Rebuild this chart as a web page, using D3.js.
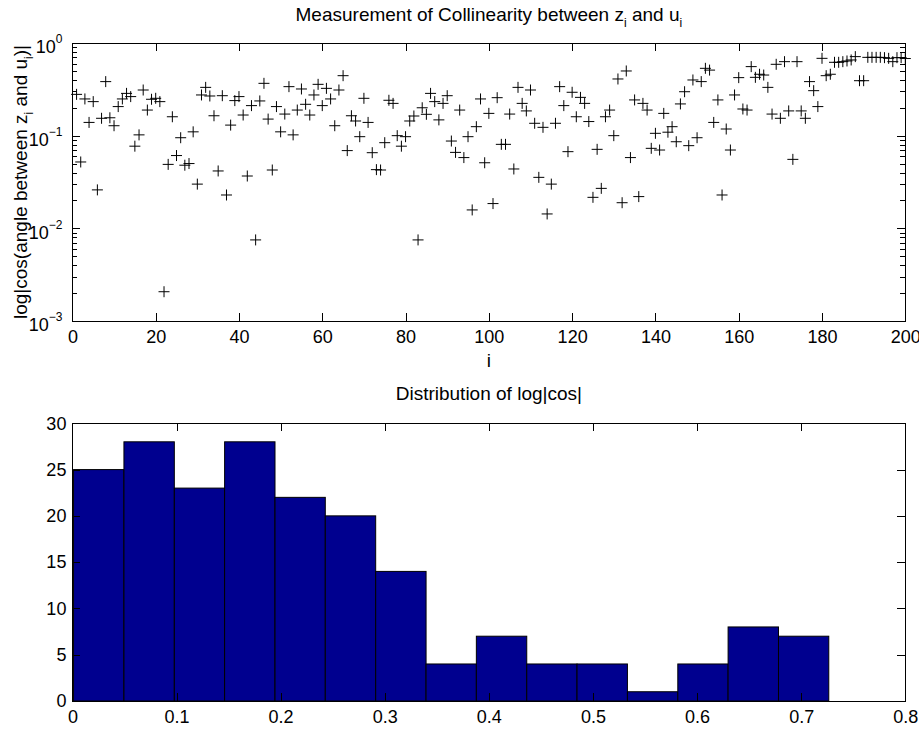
<!DOCTYPE html>
<html><head><meta charset="utf-8">
<script src="https://cdn.jsdelivr.net/npm/d3@7"></script>
<style>
body{margin:0;background:#fff}
svg{font-family:"Liberation Sans",Arial,Helvetica,sans-serif}
.axis path,.axis line{stroke:#000;stroke-width:1;shape-rendering:crispEdges}
.axis text{font-size:18px;fill:#000}
</style></head><body>
<svg id="c" width="919" height="729"></svg>
<script>
// ---------- data ----------
const cosValues = [
0.279,0.052,0.249,0.139,0.233,0.026,0.154,0.383,0.156,0.128,
0.206,0.249,0.286,0.264,0.077,0.102,0.311,0.189,0.247,0.253,
0.233,0.00207,0.049,0.160,0.061,0.095,0.048,0.050,0.110,0.030,
0.275,0.332,0.268,0.164,0.0416,0.270,0.0229,0.130,0.239,0.264,
0.167,0.0367,0.211,0.0075,0.237,0.367,0.151,0.0426,0.206,0.110,
0.171,0.338,0.102,0.189,0.319,0.218,0.167,0.275,0.358,0.211,
0.324,0.249,0.128,0.311,0.444,0.069,0.164,0.144,0.0975,0.253,
0.139,0.0655,0.043,0.0426,0.084,0.241,0.223,0.100,0.077,0.0975,
0.144,0.163,0.0075,0.200,0.170,0.286,0.233,0.148,0.223,0.270,
0.0875,0.066,0.189,0.058,0.0975,0.0158,0.125,0.249,0.051,0.174,
0.0185,0.257,0.0806,0.0806,0.171,0.0437,0.332,0.223,0.185,0.311,
0.136,0.0355,0.123,0.0143,0.030,0.136,0.338,0.211,0.0672,0.294,
0.160,0.259,0.223,0.142,0.0216,0.0712,0.027,0.160,0.189,0.100,
0.409,0.0189,0.499,0.058,0.243,0.022,0.223,0.189,0.073,0.106,
0.070,0.174,0.109,0.125,0.086,0.220,0.298,0.078,0.399,0.095,
0.383,0.533,0.51,0.139,0.243,0.0229,0.118,0.070,0.275,0.423,
0.194,0.189,0.556,0.426,0.460,0.451,0.332,0.171,0.589,0.154,
0.629,0.185,0.0555,0.629,0.185,0.154,0.383,0.306,0.206,0.683,
0.444,0.460,0.619,0.619,0.629,0.640,0.656,0.713,0.392,0.392,
0.700,0.700,0.700,0.700,0.695,0.683,0.629,0.695,0.695,0.680];
const indexValues = d3.range(1, cosValues.length + 1);
const xTicksTop = [0,20,40,60,80,100,120,140,160,180,200];
const yTicksTop = [1e-3,1e-2,1e-1,1];

const histEdges = [0.0011,0.0495,0.0979,0.1462,0.1946,0.2429,0.2913,0.3397,0.3880,0.4364,0.4847,0.5331,0.5815,0.6298,0.6782,0.7265];
const histCounts = [25,28,23,28,22,20,14,4,7,4,4,1,4,8,7];
const xTicksBot = [0,0.1,0.2,0.3,0.4,0.5,0.6,0.7,0.8];
const yTicksBot = [0,5,10,15,20,25,30];

// ---------- layout ----------
const svg = d3.select("#c");
const L = 72.4, R = 905.3;
const T1 = 43, B1 = 321;
const T2 = 423.3, B2 = 701;
const TK = 8, TKm = 5;
const FS = 19, FSsub = 12;

// ---------- top chart ----------
const x1 = d3.scaleLinear().domain([0,200]).range([L,R]);
const y1 = d3.scaleLog().domain([1e-3,1]).range([B1,T1]);
const minors = [];
yTicksTop.slice(0,3).forEach(d => { for (let k=2;k<=9;k++) minors.push(d*k); });

const g1 = svg.append("g");
g1.append("rect").attr("x",L).attr("y",T1).attr("width",R-L).attr("height",B1-T1)
  .attr("fill","#fff").attr("stroke","#000").attr("shape-rendering","crispEdges");

g1.append("g").attr("class","axis").attr("transform",`translate(0,${B1})`)
  .call(d3.axisBottom(x1).tickValues(xTicksTop).tickSize(-TK).tickSizeOuter(0).tickPadding(9).tickFormat(d3.format("d")))
  .call(g=>g.select(".domain").remove());
g1.append("g").attr("class","axis").attr("transform",`translate(0,${T1})`)
  .call(d3.axisTop(x1).tickValues(xTicksTop).tickSize(-TK).tickSizeOuter(0).tickFormat(""))
  .call(g=>g.select(".domain").remove());

const yl = g1.append("g").attr("class","axis").attr("transform",`translate(${L},0)`)
  .call(d3.axisLeft(y1).tickValues(yTicksTop).tickSize(-TK).tickSizeOuter(0).tickPadding(10).tickFormat(""))
  .call(g=>g.select(".domain").remove());
yl.selectAll(".tick text").each(function(d){
  const t = d3.select(this);
  t.text("10").attr("dy","0.55em");
  t.append("tspan").attr("dy",-10).attr("font-size",FSsub).text(String(Math.round(Math.log10(d))).replace("-","\u2212"));
});
g1.append("g").attr("class","axis").attr("transform",`translate(${L},0)`)
  .call(d3.axisLeft(y1).tickValues(minors).tickSize(-TKm).tickSizeOuter(0).tickFormat(""))
  .call(g=>g.select(".domain").remove());
g1.append("g").attr("class","axis").attr("transform",`translate(${R},0)`)
  .call(d3.axisRight(y1).tickValues(yTicksTop).tickSize(-TK).tickSizeOuter(0).tickFormat(""))
  .call(g=>g.select(".domain").remove());
g1.append("g").attr("class","axis").attr("transform",`translate(${R},0)`)
  .call(d3.axisRight(y1).tickValues(minors).tickSize(-TKm).tickSizeOuter(0).tickFormat(""))
  .call(g=>g.select(".domain").remove());

// markers
g1.append("g").selectAll("path.pt").data(indexValues).join("path")
  .attr("transform", i => `translate(${x1(i)},${y1(cosValues[i-1])})`)
  .attr("d", "M-5.5,0H5.5M0,-5.5V5.5")
  .attr("stroke","#000").attr("stroke-width",1).attr("fill","none");

// title
const t1 = svg.append("text").attr("x",(L+R)/2).attr("y",21).attr("text-anchor","middle")
  .attr("font-size",FS);
t1.append("tspan").text("Measurement of Collinearity between z");
t1.append("tspan").attr("dy",6).attr("font-size",FSsub).text("i");
t1.append("tspan").attr("dy",-6).text(" and u");
t1.append("tspan").attr("dy",6).attr("font-size",FSsub).text("i");

svg.append("text").attr("x",(L+R)/2).attr("y",367).attr("text-anchor","middle").attr("font-size",FS).text("i");

const yt = svg.append("text").attr("transform",`translate(27,${(T1+B1)/2}) rotate(-90)`)
  .attr("text-anchor","middle").attr("font-size",FS);
yt.append("tspan").text("log|cos(angle between z");
yt.append("tspan").attr("dy",6).attr("font-size",FSsub).text("i");
yt.append("tspan").attr("dy",-6).text(" and u");
yt.append("tspan").attr("dy",6).attr("font-size",FSsub).text("i");
yt.append("tspan").attr("dy",-6).text(")|");

// ---------- bottom chart ----------
const x2 = d3.scaleLinear().domain([0,0.8]).range([L,R]);
const y2 = d3.scaleLinear().domain([0,30]).range([B2,T2]);
const g2 = svg.append("g");
g2.append("rect").attr("x",L).attr("y",T2).attr("width",R-L).attr("height",B2-T2)
  .attr("fill","#fff").attr("stroke","none");

g2.append("g").selectAll("rect.bar").data(histCounts).join("rect")
  .attr("x",(d,k)=>x2(histEdges[k]))
  .attr("width",(d,k)=>x2(histEdges[k+1])-x2(histEdges[k]))
  .attr("y",d=>y2(d)).attr("height",d=>y2(0)-y2(d))
  .attr("fill","#00008f").attr("stroke","#000").attr("stroke-width",1);

g2.append("rect").attr("x",L).attr("y",T2).attr("width",R-L).attr("height",B2-T2)
  .attr("fill","none").attr("stroke","#000").attr("shape-rendering","crispEdges");

g2.append("g").attr("class","axis").attr("transform",`translate(0,${B2})`)
  .call(d3.axisBottom(x2).tickValues(xTicksBot).tickSize(-TK).tickSizeOuter(0).tickPadding(9).tickFormat(d=>d===0?"0":d3.format(".1f")(d)))
  .call(g=>g.select(".domain").remove());
g2.append("g").attr("class","axis").attr("transform",`translate(0,${T2})`)
  .call(d3.axisTop(x2).tickValues(xTicksBot).tickSize(-TK).tickSizeOuter(0).tickFormat(""))
  .call(g=>g.select(".domain").remove());
g2.append("g").attr("class","axis").attr("transform",`translate(${L},0)`)
  .call(d3.axisLeft(y2).tickValues(yTicksBot).tickSize(-TK).tickSizeOuter(0).tickPadding(6).tickFormat(d3.format("d")))
  .call(g=>g.select(".domain").remove());
g2.append("g").attr("class","axis").attr("transform",`translate(${R},0)`)
  .call(d3.axisRight(y2).tickValues(yTicksBot).tickSize(-TK).tickSizeOuter(0).tickFormat(""))
  .call(g=>g.select(".domain").remove());

svg.append("text").attr("x",(L+R)/2).attr("y",400).attr("text-anchor","middle")
  .attr("font-size",FS).text("Distribution of log|cos|");
</script>
</body></html>
